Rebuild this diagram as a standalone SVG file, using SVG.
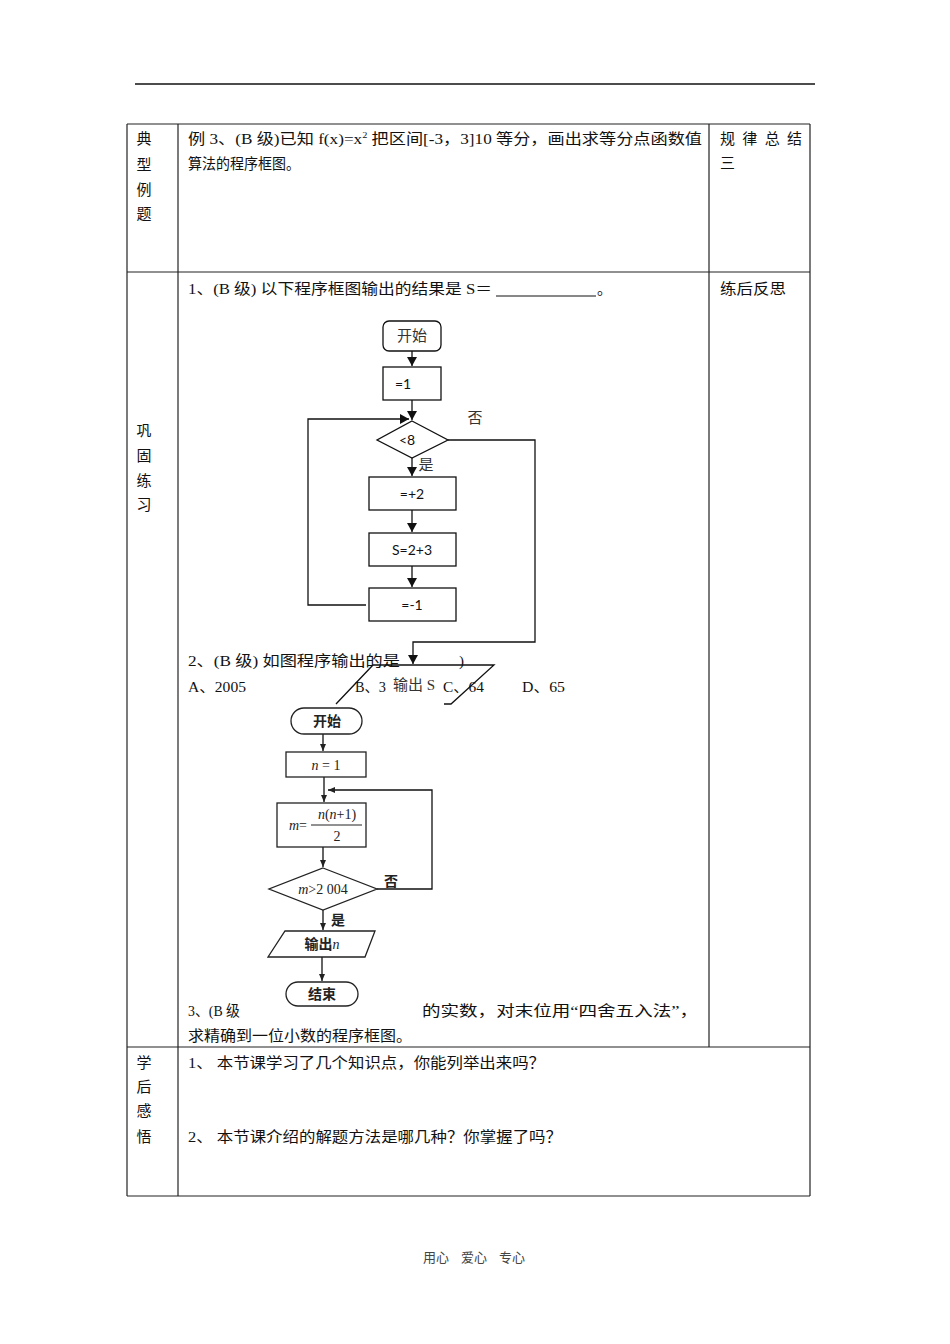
<svg xmlns="http://www.w3.org/2000/svg" width="950" height="1344" viewBox="0 0 950 1344">
<style>
.t{font-family:"Liberation Serif","Noto Sans CJK SC",serif;font-size:15px;fill:#111}
.c{font-family:"Noto Sans CJK SC",sans-serif;font-size:15px;fill:#111;text-anchor:middle}
.fs{font-family:"Lato","Liberation Sans",sans-serif;font-size:14px;fill:#111;text-anchor:middle}
.fz{font-family:"Liberation Serif","Noto Sans CJK SC",serif;font-size:15px;fill:#333;text-anchor:middle}
.f2{font-family:"Liberation Serif","Noto Sans CJK SC",serif;font-size:14px;fill:#222;text-anchor:middle}
.b{font-weight:bold}
.i{font-style:italic}
.tb{stroke:#222;stroke-width:1.2;fill:none}
.n1{fill:#fff;stroke:#111;stroke-width:1.3}
.n2{fill:#fff;stroke:#222;stroke-width:1.3}
.ln{fill:none;stroke:#111;stroke-width:1.3}
.ft{font-family:"Noto Sans CJK SC",sans-serif;font-size:13px;fill:#444}
</style>
<defs>
<marker id="ah" markerWidth="10" markerHeight="10" refX="9" refY="5" orient="auto" markerUnits="userSpaceOnUse">
<path d="M0,0 L9,5 L0,10 Z" fill="#111"/>
</marker>
<marker id="ah2" markerWidth="8" markerHeight="8" refX="7" refY="4" orient="auto" markerUnits="userSpaceOnUse">
<path d="M0,1 L7,4 L0,7 Z" fill="#222"/>
</marker>
</defs>
<rect x="0" y="0" width="950" height="1344" fill="#fff"/>

<g id="page">
<line x1="135" y1="84" x2="815" y2="84" stroke="#111" stroke-width="1.3"/>
<g id="table" class="tb">
<line x1="127" y1="124" x2="810" y2="124"/>
<line x1="127" y1="272" x2="810" y2="272"/>
<line x1="127" y1="1047" x2="810" y2="1047"/>
<line x1="127" y1="1196" x2="810" y2="1196"/>
<line x1="127" y1="124" x2="127" y2="1196"/>
<line x1="178" y1="124" x2="178" y2="1196"/>
<line x1="709" y1="124" x2="709" y2="1047"/>
<line x1="810" y1="124" x2="810" y2="1196"/>
</g>

<g id="row1">
<text class="c" x="144" y="144">典</text>
<text class="c" x="144" y="170">型</text>
<text class="c" x="144" y="195">例</text>
<text class="c" x="144" y="219">题</text>
<text class="t" x="188" y="144" textLength="514" lengthAdjust="spacingAndGlyphs">例 3、(B 级)已知 f(x)=x<tspan font-size="9" dy="-6">2</tspan><tspan dy="6"> 把区间[-3，3]10 等分，画出求等分点函数值</tspan></text>
<text class="t" x="188" y="169" textLength="112" lengthAdjust="spacingAndGlyphs">算法的程序框图。</text>
<text class="t" x="720" y="144" textLength="82" lengthAdjust="spacing">规 律 总 结</text>
<text class="t" x="720" y="168">三</text>
</g>

<g id="row2">
<text class="c" x="144" y="436">巩</text>
<text class="c" x="144" y="461">固</text>
<text class="c" x="144" y="486">练</text>
<text class="c" x="144" y="510">习</text>
<text class="t" x="188" y="294" textLength="304" lengthAdjust="spacingAndGlyphs">1、(B 级) 以下程序框图输出的结果是 S＝</text>
<line x1="496" y1="296" x2="596" y2="296" stroke="#111" stroke-width="1"/>
<text class="t" x="597" y="294">。</text>
<text class="t" x="720" y="294" textLength="66" lengthAdjust="spacingAndGlyphs">练后反思</text>
<text class="t" x="188" y="666" textLength="212" lengthAdjust="spacingAndGlyphs">2、(B 级) 如图程序输出的是</text>
<text class="t" x="459" y="666">)</text>
<text class="t" x="188" y="692" textLength="58" lengthAdjust="spacingAndGlyphs">A、2005</text>
<text class="t" x="355" y="692" textLength="31" lengthAdjust="spacingAndGlyphs">B、3</text>
<text class="t" x="443" y="692" textLength="41" lengthAdjust="spacingAndGlyphs">C、64</text>
<text class="t" x="522" y="692" textLength="43" lengthAdjust="spacingAndGlyphs">D、65</text>
<text class="t" x="188" y="1016" textLength="52" lengthAdjust="spacingAndGlyphs">3、(B 级</text>
<text class="t" x="422" y="1016" textLength="276" lengthAdjust="spacingAndGlyphs">的实数，对末位用“四舍五入法”，</text>
<text class="t" x="188" y="1041" textLength="224" lengthAdjust="spacingAndGlyphs">求精确到一位小数的程序框图。</text>
</g>

<g id="row3">
<text class="c" x="144" y="1068">学</text>
<text class="c" x="144" y="1092">后</text>
<text class="c" x="144" y="1116">感</text>
<text class="c" x="144" y="1142">悟</text>
<text class="t" x="188" y="1068" textLength="357" lengthAdjust="spacingAndGlyphs">1、 本节课学习了几个知识点，你能列举出来吗？</text>
<text class="t" x="188" y="1142" textLength="374" lengthAdjust="spacingAndGlyphs">2、 本节课介绍的解题方法是哪几种？你掌握了吗？</text>
</g>

<g id="footer">
<text class="ft" x="423" y="1262">用心</text>
<text class="ft" x="461" y="1262">爱心</text>
<text class="ft" x="499" y="1262">专心</text>
</g>
</g>

<g id="connectors1">
<line class="ln" x1="412" y1="351" x2="412" y2="366" marker-end="url(#ah)"/>
<line class="ln" x1="412" y1="400" x2="412" y2="420" marker-end="url(#ah)"/>
<polyline class="ln" points="366,605 308,605 308,419 409,419" marker-end="url(#ah)"/>
<polyline class="ln" points="448,440 535,440 535,642 413,642 413,664" marker-end="url(#ah)"/>
<line class="ln" x1="412" y1="458" x2="412" y2="476" marker-end="url(#ah)"/>
<line class="ln" x1="412" y1="510" x2="412" y2="532" marker-end="url(#ah)"/>
<line class="ln" x1="412" y1="566" x2="412" y2="587" marker-end="url(#ah)"/>
<text class="fz" x="475" y="423">否</text>
<text class="fz" x="426" y="470">是</text>
</g>

<g id="fc1-start"><rect class="n1" x="383" y="321" width="58" height="30" rx="6"/><text class="fz" x="412" y="341">开始</text></g>
<g id="fc1-init"><rect class="n1" x="383" y="367" width="58" height="33"/><text class="fs" x="403" y="389">=1</text></g>
<g id="fc1-cond"><polygon class="n1" points="412,421 448,440 412,458 377,440"/><text class="fs" x="407" y="445">&lt;8</text></g>
<g id="fc1-step1"><rect class="n1" x="369" y="477" width="87" height="33"/><text class="fs" x="412" y="499">=+2</text></g>
<g id="fc1-step2"><rect class="n1" x="369" y="533" width="87" height="33"/><text class="fs" x="412" y="555">S=2+3</text></g>
<g id="fc1-step3"><rect class="n1" x="369" y="588" width="87" height="33"/><text class="fs" x="412" y="610">=-1</text></g>
<g id="fc1-output">
<polyline class="ln" points="336,704 373,665 494,665 451,704 444,704"/>
<text class="fz" x="414" y="690" fill="#555">输出 S</text>
</g>

<g id="connectors2">
<line class="ln" x1="323" y1="734" x2="323" y2="751" marker-end="url(#ah2)" stroke="#222"/>
<line class="ln" x1="324" y1="777" x2="324" y2="802" marker-end="url(#ah2)" stroke="#222"/>
<polyline class="ln" points="377,889 432,889 432,790 328,790" marker-end="url(#ah2)" stroke="#222"/>
<line class="ln" x1="323" y1="847" x2="323" y2="867" marker-end="url(#ah2)" stroke="#222"/>
<line class="ln" x1="323" y1="910" x2="323" y2="930" marker-end="url(#ah2)" stroke="#222"/>
<line class="ln" x1="322" y1="957" x2="322" y2="981" marker-end="url(#ah2)" stroke="#222"/>
<text class="f2 b" x="391" y="886">否</text>
<text class="f2 b" x="338" y="925">是</text>
</g>

<g id="fc2-start"><rect class="n2" x="291" y="708" width="71" height="26" rx="13"/><text class="f2 b" x="327" y="726">开始</text></g>
<g id="fc2-init"><rect class="n2" x="286" y="752" width="80" height="25"/><text class="f2" x="326" y="770"><tspan class="i">n</tspan> = 1</text></g>
<g id="fc2-calc"><rect class="n2" x="277" y="803" width="89" height="44"/>
<text class="f2" x="298" y="830"><tspan class="i">m</tspan>=</text>
<line x1="311" y1="825" x2="362" y2="825" stroke="#222" stroke-width="1"/>
<text class="f2" x="337" y="819"><tspan class="i">n</tspan>(<tspan class="i">n</tspan>+1)</text>
<text class="f2" x="337" y="841">2</text>
</g>
<g id="fc2-cond"><polygon class="n2" points="323,868 377,889 323,910 269,889"/><text class="f2" x="323" y="894"><tspan class="i">m</tspan>&gt;2 004</text></g>
<g id="fc2-output"><polygon class="n2" points="285,931 375,931 365,957 268,957"/><text class="f2" x="322" y="949"><tspan class="b">输出</tspan><tspan class="i">n</tspan></text></g>
<g id="fc2-end"><rect class="n2" x="286" y="982" width="72" height="24" rx="12"/><text class="f2 b" x="322" y="999">结束</text></g>
</svg>
